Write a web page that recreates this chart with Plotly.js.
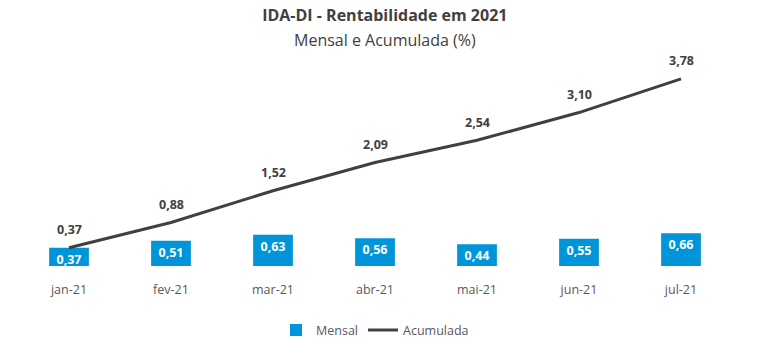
<!DOCTYPE html>
<html><head><meta charset="utf-8">
<script src="https://cdn.plot.ly/plotly-3.0.1.min.js"></script>
<style>html,body{margin:0;padding:0;background:#fff}#chart{width:759px;height:357px}</style>
</head><body><div id="chart"></div>
<script>
const months = ["jan-21","fev-21","mar-21","abr-21","mai-21","jun-21","jul-21"];
const mensal = [0.37,0.51,0.63,0.56,0.44,0.55,0.66];
const acumulada = [0.37,0.88,1.52,2.09,2.54,3.10,3.78];
const fmt = v => v.toFixed(2).replace('.', ',');
const FONT = "Open Sans, sans-serif";
const data = [
  {type:'bar', name:'Mensal', x:months, y:mensal, marker:{color:'#0095D9'},
   width:0.39, text:mensal.map(fmt), textposition:'inside', insidetextanchor:'end',
   constraintext:'none', textangle:0,
   textfont:{family:FONT, size:12.5, color:'#ffffff', weight:'bold'}, hoverinfo:'skip'},
  {type:'scatter', mode:'lines', name:'Acumulada', x:months, y:acumulada,
   line:{color:'#404040', width:3}, hoverinfo:'skip', cliponaxis:false}
];
const annotations = months.map((m,i) => ({
  x:m, y:acumulada[i], xref:'x', yref:'y', text:'<b>'+fmt(acumulada[i])+'</b>',
  showarrow:false, yshift:18, yanchor:'middle', xanchor:'center',
  font:{family:FONT, size:12.5, color:'#404040'}
}));
annotations.push({
  xref:'paper', yref:'paper', x:0.514, y:1.14, xanchor:'center', yanchor:'middle',
  showarrow:false, text:'Mensal e Acumulada (%)',
  font:{family:FONT, size:16, color:'#404040'}
});
const layout = {
  width:759, height:357, paper_bgcolor:'#fff', plot_bgcolor:'#fff',
  margin:{l:18, r:27, t:68, b:89},
  font:{family:FONT, color:'#595959'},
  title:{text:'<b>IDA-DI - Rentabilidade em 2021</b>', x:0.507, xanchor:'center', xref:'container',
    yref:'container', y:1-15/357, yanchor:'middle',
    font:{family:FONT, size:16, color:'#404040'}},
  annotations: annotations,
  xaxis:{type:'category', range:[-0.5,6.5], showgrid:false, zeroline:false, showline:false,
    ticks:'outside', ticklen:12, tickcolor:'rgba(0,0,0,0)', tickfont:{family:FONT, size:12.5, color:'#595959'}},
  yaxis:{range:[0,4], visible:false, showgrid:false, zeroline:false},
  showlegend:true,
  legend:{orientation:'h', x:0.5, xanchor:'center', y:-0.325, yanchor:'middle',
    font:{family:FONT, size:12.5, color:'#595959'}, traceorder:'normal'},
  bargap:0.6
};
Plotly.newPlot('chart', data, layout, {displayModeBar:false, staticPlot:true});
</script></body></html>
